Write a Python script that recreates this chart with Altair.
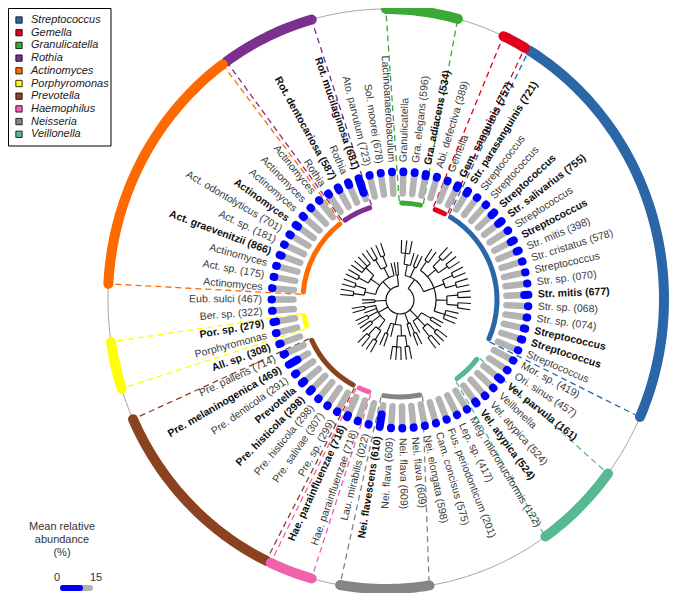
import math
import altair as alt
import pandas as pd

# ---------------- data ----------------
leaf_labels = [
    "Granulicatella", "Gra. elegans (596)", "Gra. adiacens (534)", "Abi. defectiva (389)",
    "Gemella", "Gem. sanguinis (757)", "Str. parasanguinis (721)", "Streptococcus",
    "Streptococcus", "Streptococcus", "Str. salivarius (755)", "Streptococcus",
    "Streptococcus", "Str. mitis (398)", "Str. cristatus (578)", "Streptococcus",
    "Str. sp. (070)", "Str. mitis (677)", "Str. sp. (068)", "Str. sp. (074)",
    "Streptococcus", "Streptococcus", "Streptococcus", "Mor. sp. (419)",
    "Ori. sinus (457)", "Vel. parvula (161)", "Veillonella", "Vel. atypica (524)",
    "Vel. atypica (524)", "Meg. micronuciformis (122)", "Lep. sp. (417)",
    "Fus. periodonticum (201)", "Cam. concisus (575)", "Nei. elongata (598)",
    "Nei. flava (609)", "Nei. flava (609)", "Nei. flava (609)", "Nei. flavescens (610)",
    "Lau. mirabilis (022)", "Hae. parainfluenzae (718)", "Hae. parainfluenzae (718)",
    "Pre. sp. (299)", "Pre. salivae (307)", "Pre. histicola (298)", "Pre. histicola (298)",
    "Prevotella", "Pre. denticola (291)", "Pre. melaninogenica (469)", "Pre. pallens (714)",
    "All. sp. (308)", "Porphyromonas", "Por. sp. (279)", "Ber. sp. (322)",
    "Eub. sulci (467)", "Actinomyces", "Act. sp. (175)", "Actinomyces",
    "Act. graevenitzii (866)", "Act. sp. (181)", "Act. odontolyticus (701)", "Actinomyces",
    "Actinomyces", "Actinomyces", "Actinomyces", "Rothia", "Rot. dentocariosa (587)",
    "Rothia", "Rot. mucilaginosa (681)", "Ato. parvulum (723)", "Sol. moorei (678)",
    "Lachnoanaerobaculum",
]
bold_leaves = [3, 6, 7, 10, 11, 13, 18, 21, 22, 26, 29, 38, 41, 45, 46, 48, 50, 52,
               58, 61, 66, 68]  # 1-based
leaf_abundance = [
    0.5, 0.5, 1.5, 0.5, 0.5, 2.0, 2.0, 0.5, 0.5, 2.5, 3.0, 0.5, 2.5, 1.5, 0.5, 0.3,
    0.3, 3.0, 0.3, 0.5, 1.0, 1.0, 0.3, 0.3, 0.5, 2.5, 0.5, 0.5, 1.5, 0.3, 0.3, 0.3,
    0.3, 0.3, 0.3, 0.3, 0.3, 9.0, 0.3, 0.5, 1.5, 0.5, 0.5, 0.5, 2.0, 2.0, 1.0, 7.0,
    1.0, 1.0, 0.5, 2.0, 0.5, 0.3, 0.3, 0.5, 0.5, 1.5, 0.5, 1.0, 2.0, 1.0, 0.5, 0.5,
    1.0, 2.0, 2.0, 11.0, 0.3, 0.3, 0.3,
]

genus_names = ["Streptococcus", "Gemella", "Granulicatella", "Rothia", "Actinomyces",
               "Porphyromonas", "Prevotella", "Haemophilus", "Neisseria", "Veillonella"]
genus_colors = ["#2b67a7", "#e2001a", "#3aa935", "#7d2f8e", "#ff6a00",
                "#ffff00", "#8b4220", "#f062ac", "#858585", "#57b992"]
genus_leaf_first = [7, 5, 1, 65, 55, 51, 42, 40, 34, 26]   # 1-based
genus_leaf_last = [23, 6, 3, 68, 64, 52, 49, 41, 38, 29]
genus_outer_start = [31, 25, 0, -35, -87, 252, 205.5, 195.5, 171, 127]  # degrees
genus_outer_end = [114, 30, 15, -15.5, -36, 261.5, 245.5, 204.5, 189.5, 145]

# simplified tree topology (0-based leaf indices)
tree = [
    [[[0, 1, 2], 3], [4, 5],
     [[6, 7], [[8, 9], [10, 11]], [[12, 13], [14, 15]], [[16, 17], [18, 19]], [20, 21, 22]]],
    [[23, 24], [[25, 26], [27, 28]], 29],
    [[30, 31], 32],
    [[[33, 34], [35, 36, 37]], 38, [39, 40]],
    [[[41, 42], [43, 44]], [45, 46], [47, 48], 49, [50, 51]],
    [52, 53],
    [[[54, 55], [56, 57]], [[58, 59], [60, 61, 62, 63]], [[64, 65], [66, 67]], 68],
    [69, 70],
]

abundance_legend_ticks = ["0", "15"]
abundance_legend_title = ["Mean relative", "abundance", "(%)"]

# ---------------- geometry helpers ----------------
W, H = 684, 585
CX, CY = 400.0, 300.0          # centre of tree / bars (page px)
OX, OY = 386.0, 299.0          # centre of outer ring
ORX, ORY = 278.0, 290.0        # outer ring radii (slightly elliptical)
N = len(leaf_labels)
STEP = 360.0 / N
T0 = 1.5


def ang(i):
    return T0 + i * STEP


def px(cx, r, t):
    return cx + r * math.sin(math.radians(t))


def py(cy, r, t):
    return cy - r * math.cos(math.radians(t))


xs = alt.Scale(domain=[8, 8 + W], range=[0, W], zero=False, nice=False)
ys = alt.Scale(domain=[8, 8 + H], range=[0, H], zero=False, nice=False)
ts = alt.Scale(domain=[0, 360], range=[0, 2 * math.pi], zero=False, nice=False)
rs = alt.Scale(type="linear", domain=[0, 300], range=[0, 300], zero=False, nice=False)
cs = alt.Scale(domain=genus_names, range=genus_colors)

X = lambda f="x": alt.X(f"{f}:Q", scale=xs, axis=None)
Y = lambda f="y": alt.Y(f"{f}:Q", scale=ys, axis=None)


def seg_chart(df, **mark):
    return alt.Chart(df).mark_rule(**mark).encode(x=X(), y=Y(), x2="x2:Q", y2="y2:Q")


def arc_chart(df, cx, cy, color=None, **mark):
    enc = dict(
        theta=alt.Theta("t0:Q", scale=ts), theta2="t1:Q",
        radius=alt.Radius("r0:Q", scale=rs), radius2="r1:Q",
        x=alt.value(cx - 8), y=alt.value(cy - 8),
    )
    if color is None:
        enc["color"] = alt.Color("genus:N", scale=cs, legend=None)
    else:
        enc["color"] = alt.value(color)
    return alt.Chart(df).mark_arc(**mark).encode(**enc)


def ring_pts(a0, a1, key):
    n = max(2, int(abs(a1 - a0)) + 1)
    return [dict(genus=key, k=j,
                 x=OX + ORX * math.sin(math.radians(a0 + (a1 - a0) * j / (n - 1))),
                 y=OY - ORY * math.cos(math.radians(a0 + (a1 - a0) * j / (n - 1))))
            for j in range(n)]


# ---------------- bars ----------------
R_IN, R_OUT, KPX = 106.5, 128.5, 1.4
gray_rows, blue_rows, text_rows = [], [], []
for i, (lab, v) in enumerate(zip(leaf_labels, leaf_abundance)):
    t = ang(i)
    gray_rows.append(dict(x=px(CX, R_IN, t), y=py(CY, R_IN, t),
                          x2=px(CX, R_OUT, t), y2=py(CY, R_OUT, t)))
    rb = R_OUT - v * KPX
    blue_rows.append(dict(x=px(CX, rb, t), y=py(CY, rb, t),
                          x2=px(CX, R_OUT, t), y2=py(CY, R_OUT, t)))
    right = t < 180
    rot = t - 90 if right else t + 90
    text_rows.append(dict(label=lab, x=px(CX, 138, t), y=py(CY, 138, t),
                          rot=rot % 360, side="R" if right else "L",
                          bold=(i + 1) in bold_leaves))
gray_df = pd.DataFrame(gray_rows)
blue_df = pd.DataFrame(blue_rows)
text_df = pd.DataFrame(text_rows)

layers = []

# outer thin ring
ring_df = pd.DataFrame(ring_pts(0, 360, "ring"))
layers.append(alt.Chart(ring_df).mark_line(color="#a6a6a6", strokeWidth=1).encode(
    x=X(), y=Y(), order="k:Q"))

# genus arcs
inner_rows, outer_rows, dash_rows = [], [], []
for g, col, f, l, s, e in zip(genus_names, genus_colors, genus_leaf_first,
                              genus_leaf_last, genus_outer_start, genus_outer_end):
    a0 = ang(f - 1) - 2.0
    a1 = ang(l - 1) + 2.0
    inner_rows.append(dict(genus=g, t0=a0, t1=a1, r0=94.5, r1=99.5))
    outer_rows.extend(ring_pts(s, e, g))
    for ai, ao in ((a0, s), (a1, e)):
        dash_rows.append(dict(genus=g, x=px(CX, 99, ai), y=py(CY, 99, ai),
                              x2=OX + (ORX - 3) * math.sin(math.radians(ao)),
                              y2=OY - (ORY - 3) * math.cos(math.radians(ao))))
dash_df = pd.DataFrame(dash_rows)
layers.append(
    alt.Chart(dash_df).mark_rule(strokeDash=[6, 4], strokeWidth=1.3).encode(
        x=X(), y=Y(), x2="x2:Q", y2="y2:Q",
        stroke=alt.Stroke("genus:N", scale=alt.Scale(domain=genus_names, range=genus_colors),
                          legend=None)))
layers.append(alt.Chart(pd.DataFrame(outer_rows)).mark_line(
    strokeWidth=10, strokeCap="round", strokeJoin="round").encode(
    x=X(), y=Y(), order="k:Q", detail="genus:N",
    color=alt.Color("genus:N", scale=cs, legend=None)))
layers.append(arc_chart(pd.DataFrame(inner_rows), CX, CY, cornerRadius=2.5))

# bars
layers.append(seg_chart(gray_df, strokeCap="round", strokeWidth=6.5, color="#b3b3b3"))
layers.append(seg_chart(blue_df, strokeCap="round", strokeWidth=8, color="#0000ff"))

# leaf labels
for side, align in (("R", "left"), ("L", "right")):
    for b in (False, True):
        sub = text_df[(text_df.side == side) & (text_df.bold == b)]
        layers.append(
            alt.Chart(sub).mark_text(
                align=align, baseline="middle", font="Liberation Sans", fontSize=10.5,
                fontWeight="bold" if b else "normal", color="#111" if b else "#3a3a3a",
            ).encode(x=X(), y=Y(), text="label:N", angle=alt.Angle("rot:Q", scale=None)))

# ---------------- tree ----------------
tree_arcs, tree_segs = [], []
R_ROOT, DSTEP, TIP = 14.0, 11.0, 13.0


def lay(node, depth):
    if isinstance(node, int):
        return ang(node), None
    r = R_ROOT + depth * DSTEP
    child = [lay(c, depth + 1) for c in node]
    angs = [c[0] for c in child]
    tree_arcs.append(dict(t0=min(angs), t1=max(angs), r0=r - 0.6, r1=r + 0.6))
    for a, cr in child:
        rr = cr if cr is not None else r + TIP
        tree_segs.append(dict(x=px(CX, r, a), y=py(CY, r, a),
                              x2=px(CX, rr, a), y2=py(CY, rr, a)))
    return sum(angs) / len(angs), r


lay(tree, 0)
layers.append(arc_chart(pd.DataFrame(tree_arcs), CX, CY, color="#111"))
layers.append(seg_chart(pd.DataFrame(tree_segs), strokeWidth=1.1, color="#111"))

# ---------------- genus legend (top-left box) ----------------
LX, LY, LSTEP = 19.0, 20.0, 12.7
leg_df = pd.DataFrame(dict(genus=genus_names,
                           y=[LY + k * LSTEP for k in range(len(genus_names))],
                           x=[LX] * len(genus_names),
                           xt=[LX + 12] * len(genus_names)))
box_df = pd.DataFrame(dict(x=[8.5], x2=[111], y=[8.5], y2=[146]))
layers.append(alt.Chart(box_df).mark_rect(fill="white", stroke="black", strokeWidth=1)
              .encode(x=X(), x2="x2:Q", y=Y(), y2="y2:Q"))
layers.append(alt.Chart(leg_df).mark_square(size=40, opacity=1, stroke="black",
                                            strokeWidth=0.8, filled=True)
              .encode(x=X(), y=Y(), fill=alt.Fill("genus:N", scale=cs, legend=None)))
layers.append(alt.Chart(leg_df).mark_text(
    align="left", baseline="middle", font="Liberation Sans", fontSize=11,
    fontStyle="italic", color="#222").encode(x=X("xt"), y=Y(), text="genus:N"))

# ---------------- abundance legend ----------------
leg_text = pd.DataFrame(dict(
    t=abundance_legend_title + abundance_legend_ticks,
    x=[62, 62, 62, 57, 96], y=[527, 540, 553, 578, 578]))
layers.append(alt.Chart(leg_text).mark_text(
    font="Liberation Sans", fontSize=11, color="#333", baseline="middle", align="center"
).encode(x=X(), y=Y(), text="t:N"))
leg_bar = pd.DataFrame(dict(x=[63, 63], x2=[90, 80], y=[588, 588], y2=[588, 588],
                            c=["#b3b3b3", "#0000ff"]))
layers.append(alt.Chart(leg_bar).mark_rule(strokeCap="round", strokeWidth=6).encode(
    x=X(), y=Y(), x2="x2:Q", y2="y2:Q", color=alt.Color("c:N", scale=None)))

chart = alt.layer(*layers).properties(
    width=W, height=H, padding=0, autosize=alt.AutoSizeParams(type="none"),
).configure_view(stroke=None)

chart.save("out.html", embed_options={"renderer": "svg", "actions": False})
